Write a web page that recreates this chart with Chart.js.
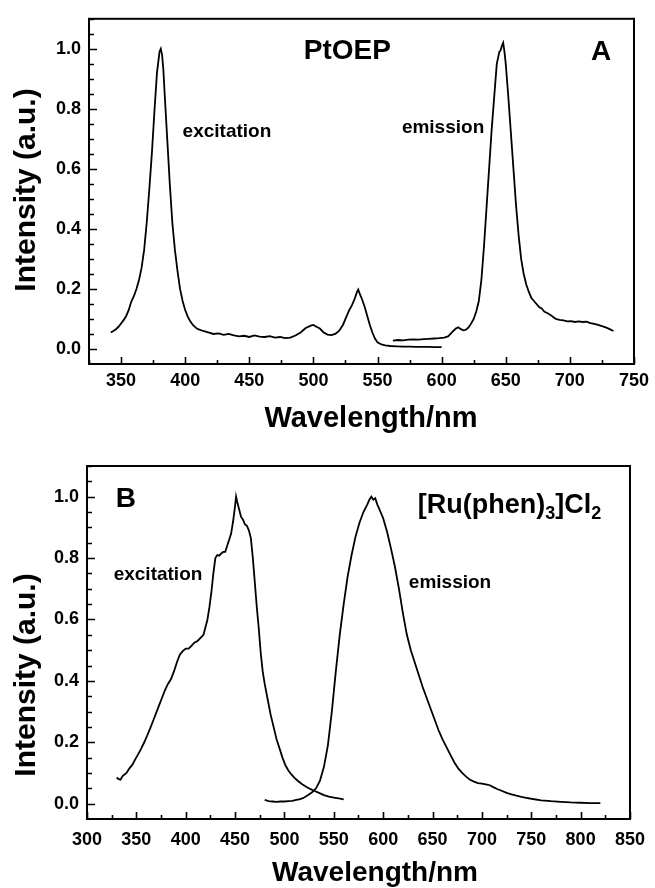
<!DOCTYPE html>
<html>
<head>
<meta charset="utf-8">
<title>PtOEP and [Ru(phen)3]Cl2 spectra</title>
<script src="https://cdn.jsdelivr.net/npm/chart.js@4"></script>
<style>
    html, body { margin: 0; padding: 0; background: #fff; }
    canvas { display: block; }
</style>
</head>
<body>
<canvas id="chartA" width="655" height="444"></canvas>
<canvas id="chartB" width="655" height="444"></canvas>
<script>
/* Panel A: PtOEP excitation spectrum */
const ptExcitationX = [342, 344, 346, 348, 350, 352, 354, 356, 358, 360, 362, 364, 366, 368, 370, 372, 374, 376, 378, 380,
    381, 382, 383, 384, 386, 388, 390, 392, 394, 396, 398, 400, 402, 404, 406, 408, 410, 414, 418, 422,
    426, 430, 434, 438, 442, 446, 450, 454, 458, 462, 466, 470, 474, 478, 482, 486, 490, 494, 498, 500,
    502, 505, 508, 511, 514, 517, 520, 523, 526, 528, 530, 532, 534, 535, 536, 538, 540, 542, 544, 546,
    548, 550, 553, 556, 560, 565, 570, 575, 580, 585, 590, 595, 600];
const ptExcitationY = [0.055, 0.06, 0.066, 0.074, 0.085, 0.096, 0.11, 0.13, 0.158, 0.176, 0.2, 0.23, 0.27, 0.33, 0.42, 0.53, 0.65, 0.79, 0.92, 0.99,
    1.0, 0.98, 0.93, 0.85, 0.7, 0.55, 0.42, 0.33, 0.26, 0.2, 0.16, 0.13, 0.108, 0.092, 0.08, 0.072, 0.066, 0.06, 0.055, 0.05,
    0.052, 0.047, 0.05, 0.045, 0.042, 0.044, 0.04, 0.045, 0.041, 0.04, 0.043, 0.038, 0.04, 0.036, 0.038, 0.045, 0.055, 0.07, 0.078, 0.08,
    0.075, 0.068, 0.055, 0.048, 0.046, 0.05, 0.06, 0.08, 0.11, 0.13, 0.145, 0.165, 0.19, 0.198, 0.185, 0.165, 0.14, 0.11, 0.08, 0.055,
    0.035, 0.022, 0.015, 0.012, 0.01, 0.009, 0.008, 0.008, 0.007, 0.007, 0.007, 0.006, 0.006];

/* Panel A: PtOEP emission spectrum */
const ptEmissionX = [562, 566, 570, 574, 578, 582, 586, 590, 594, 598, 602, 605, 608, 611, 613, 615, 617, 619, 621, 623,
    625, 627, 629, 631, 633, 635, 637, 639, 641, 643, 645, 646, 647, 648, 649, 650, 652, 654, 656, 658,
    660, 662, 664, 666, 668, 670, 672, 674, 676, 678, 680, 683, 686, 689, 692, 695, 698, 701, 704, 707,
    710, 713, 716, 719, 722, 725, 728, 731, 734];
const ptEmissionY = [0.028, 0.03, 0.029, 0.031, 0.032, 0.031, 0.033, 0.034, 0.035, 0.036, 0.038, 0.042, 0.055, 0.068, 0.072, 0.066, 0.062, 0.064, 0.072, 0.085,
    0.1, 0.125, 0.16, 0.23, 0.34, 0.47, 0.6, 0.73, 0.84, 0.95, 0.99, 0.995, 1.01, 1.02, 0.99, 0.95, 0.84, 0.72, 0.6, 0.48,
    0.38, 0.3, 0.25, 0.215, 0.19, 0.17, 0.16, 0.15, 0.14, 0.135, 0.125, 0.118, 0.11, 0.1, 0.097, 0.095, 0.092, 0.093, 0.09, 0.092,
    0.09, 0.091, 0.086, 0.084, 0.08, 0.076, 0.072, 0.066, 0.06];

/* Panel B: [Ru(phen)3]Cl2 excitation spectrum */
const ruExcitationX = [330, 332, 334, 336, 338, 340, 343, 346, 349, 352, 355, 358, 361, 364, 367, 370, 373, 376, 379, 382,
    385, 388, 391, 394, 397, 400, 403, 406, 409, 412, 415, 418, 420, 422, 424, 426, 428, 430, 432, 434,
    436, 438, 440, 442, 444, 446, 448, 450, 451, 452, 454, 456, 458, 460, 462, 464, 466, 468, 470, 472,
    474, 476, 478, 480, 483, 486, 489, 492, 495, 498, 501, 504, 507, 510, 514, 518, 522, 526, 530, 535,
    540, 545, 550, 555, 560];
const ruExcitationY = [0.085, 0.08, 0.078, 0.09, 0.095, 0.1, 0.115, 0.127, 0.145, 0.162, 0.18, 0.2, 0.222, 0.245, 0.27, 0.295, 0.32, 0.345, 0.37, 0.39,
    0.405, 0.43, 0.46, 0.485, 0.497, 0.505, 0.505, 0.515, 0.525, 0.53, 0.54, 0.55, 0.575, 0.6, 0.64, 0.69, 0.75, 0.8, 0.81, 0.808,
    0.815, 0.82, 0.82, 0.84, 0.86, 0.88, 0.92, 0.97, 1.0, 0.985, 0.96, 0.935, 0.925, 0.91, 0.905, 0.89, 0.865, 0.8, 0.72, 0.64,
    0.57, 0.49, 0.43, 0.39, 0.34, 0.29, 0.25, 0.21, 0.18, 0.15, 0.125, 0.108, 0.095, 0.085, 0.073, 0.063, 0.055, 0.048, 0.042, 0.035,
    0.028, 0.023, 0.02, 0.017, 0.014];

/* Panel B: [Ru(phen)3]Cl2 emission spectrum */
const ruEmissionX = [480, 484, 488, 492, 496, 500, 504, 508, 512, 516, 520, 524, 528, 532, 536, 540, 544, 548, 552, 556,
    560, 564, 568, 572, 576, 580, 584, 586, 588, 590, 592, 594, 596, 600, 604, 608, 612, 616, 620, 624,
    628, 632, 636, 640, 644, 648, 652, 656, 660, 664, 668, 672, 676, 680, 684, 688, 692, 696, 700, 704,
    708, 712, 716, 720, 725, 730, 735, 740, 745, 750, 760, 770, 780, 790, 800, 810, 820];
const ruEmissionY = [0.012, 0.008, 0.007, 0.006, 0.007, 0.007, 0.008, 0.009, 0.012, 0.015, 0.02, 0.028, 0.037, 0.05, 0.075, 0.12, 0.19, 0.3, 0.43, 0.55,
    0.65, 0.74, 0.81, 0.87, 0.915, 0.95, 0.975, 0.99, 1.0, 0.99, 0.995, 0.975, 0.96, 0.93, 0.885, 0.83, 0.77, 0.7, 0.62, 0.55,
    0.5, 0.46, 0.42, 0.38, 0.345, 0.31, 0.275, 0.24, 0.21, 0.185, 0.16, 0.135, 0.115, 0.1, 0.088, 0.078, 0.072, 0.067, 0.065, 0.063,
    0.06, 0.053, 0.047, 0.042, 0.035, 0.03, 0.026, 0.022, 0.019, 0.016, 0.011, 0.008, 0.006, 0.004, 0.003, 0.002, 0.002];

/* Tick positions and labelled ticks */
const topXTicks = [325, 350, 375, 400, 425, 450, 475, 500, 525, 550, 575, 600, 625, 650, 675, 700, 725, 750];
const topXLabels = [350, 400, 450, 500, 550, 600, 650, 700, 750];
const bottomXTicks = [300, 325, 350, 375, 400, 425, 450, 475, 500, 525, 550, 575, 600, 625, 650, 675, 700, 725, 750, 775, 800, 825, 850];
const bottomXLabels = [300, 350, 400, 450, 500, 550, 600, 650, 700, 750, 800, 850];
const yTicks = [0, 0.05, 0.1, 0.15, 0.2, 0.25, 0.3, 0.35, 0.4, 0.45, 0.5, 0.55, 0.6, 0.65, 0.7, 0.75, 0.8, 0.85, 0.9, 0.95, 1.0, 1.05, 1.1];
const yLabels = [0, 0.2, 0.4, 0.6, 0.8, 1.0];

const FONT = '"Liberation Sans", Arial, Helvetica, sans-serif';

/* Pair x and y arrays into point objects */
function toPoints(xs, ys) {
    return xs.map((x, i) => ({ x: x, y: ys[i] }));
}

function isLabel(list, v) {
    return list.some(l => Math.abs(l - v) < 1e-6);
}

/* Frame, inward tick marks, axis titles and text labels */
const framePlugin = {
    id: 'frame',
    afterDraw(chart, args, opts) {
        const ctx = chart.ctx;
        const area = chart.chartArea;
        const xs = chart.scales.x;
        const ys = chart.scales.y;
        ctx.save();
        ctx.strokeStyle = '#000';
        ctx.lineWidth = 2;
        ctx.strokeRect(area.left, area.top, area.right - area.left, area.bottom - area.top);

        // inward tick marks
        ctx.lineWidth = 1.6;
        ctx.beginPath();
        xs.ticks.forEach(t => {
            const px = Math.round(xs.getPixelForValue(t.value)) + 0.5;
            const len = isLabel(opts.xLabels, t.value) ? 7 : 4;
            ctx.moveTo(px, area.bottom);
            ctx.lineTo(px, area.bottom - len);
        });
        ys.ticks.forEach(t => {
            const py = Math.round(ys.getPixelForValue(t.value)) + 0.5;
            const len = isLabel(yLabels, t.value) ? 8 : 5;
            ctx.moveTo(area.left, py);
            ctx.lineTo(area.left + len, py);
        });
        ctx.stroke();

        ctx.fillStyle = '#000';
        // x axis title
        ctx.font = 'bold ' + opts.xTitle.size + 'px ' + FONT;
        ctx.textAlign = 'center';
        ctx.textBaseline = 'alphabetic';
        ctx.fillText(opts.xTitle.text, opts.xTitle.x, opts.xTitle.y);

        // y axis title
        ctx.save();
        ctx.translate(opts.yTitle.x, opts.yTitle.y);
        ctx.rotate(-Math.PI / 2);
        ctx.font = 'bold ' + opts.yTitle.size + 'px ' + FONT;
        ctx.fillText(opts.yTitle.text, 0, 0);
        ctx.restore();

        // text labels placed in data coordinates
        ctx.textAlign = 'left';
        opts.labels.forEach(lab => {
            let px = xs.getPixelForValue(lab.x);
            const py = ys.getPixelForValue(lab.y);
            ctx.textBaseline = lab.baseline || 'alphabetic';
            lab.parts.forEach(p => {
                const size = p.sub ? lab.subSize : lab.size;
                ctx.font = 'bold ' + size + 'px ' + FONT;
                ctx.fillText(p.t, px, py + (p.sub ? lab.subShift : 0));
                px += ctx.measureText(p.t).width;
            });
        });
        ctx.restore();
    }
};

/* Build one spectrum panel */
function makeChart(id, cfg) {
    const ctx = document.getElementById(id).getContext('2d');
    const datasets = cfg.series.map(s => ({
        data: s,
        borderColor: '#000',
        borderWidth: 1.8,
        pointRadius: 0,
        tension: 0,
        fill: false
    }));
    return new Chart(ctx, {
        type: 'line',
        data: { datasets },
        plugins: [framePlugin],
        options: {
            responsive: false,
            animation: false,
            devicePixelRatio: 1,
            layout: { padding: cfg.padding },
            plugins: {
                legend: { display: false },
                tooltip: { enabled: false },
                frame: cfg.frame
            },
            scales: {
                x: {
                    type: 'linear',
                    min: cfg.xMin,
                    max: cfg.xMax,
                    grid: { display: false, drawTicks: false },
                    border: { display: false },
                    afterBuildTicks: s => { s.ticks = cfg.xTicks.map(v => ({ value: v })); },
                    afterFit: s => { s.height = cfg.xAxisHeight; },
                    ticks: {
                        autoSkip: false,
                        maxRotation: 0,
                        padding: cfg.xPad,
                        color: '#000',
                        font: { family: FONT, size: 18, weight: 'bold' },
                        callback: v => isLabel(cfg.xLabels, v) ? String(v) : ''
                    }
                },
                y: {
                    type: 'linear',
                    min: -0.05,
                    max: 1.1,
                    grid: { display: false, drawTicks: false },
                    border: { display: false },
                    afterBuildTicks: s => { s.ticks = yTicks.map(v => ({ value: v })); },
                    afterFit: s => { s.width = cfg.yAxisWidth; },
                    ticks: {
                        autoSkip: false,
                        padding: 8,
                        color: '#000',
                        font: { family: FONT, size: 18, weight: 'bold' },
                        callback: v => isLabel(yLabels, v) ? v.toFixed(1) : ''
                    }
                }
            }
        }
    });
}

function init() {
    makeChart('chartA', {
        series: [toPoints(ptExcitationX, ptExcitationY), toPoints(ptEmissionX, ptEmissionY)],
        xMin: 325, xMax: 750,
        xTicks: topXTicks, xLabels: topXLabels,
        padding: { top: 11, right: 19, left: 0, bottom: 0 },
        xAxisHeight: 80, yAxisWidth: 89, xPad: 6,
        frame: {
            xLabels: topXLabels,
            xTitle: { text: 'Wavelength/nm', size: 29, x: 371, y: 427 },
            yTitle: { text: 'Intensity (a.u.)', size: 30, x: 35, y: 190 },
            labels: [
                { x: 492.5, y: 0.965, size: 28, parts: [{ t: 'PtOEP' }] },
                { x: 716.5, y: 0.962, size: 28, parts: [{ t: 'A' }] },
                { x: 398, y: 0.723, size: 19, baseline: 'middle', parts: [{ t: 'excitation' }] },
                { x: 569, y: 0.736, size: 19, baseline: 'middle', parts: [{ t: 'emission' }] }
            ]
        }
    });
    makeChart('chartB', {
        series: [toPoints(ruExcitationX, ruExcitationY), toPoints(ruEmissionX, ruEmissionY)],
        xMin: 300, xMax: 850,
        xTicks: bottomXTicks, xLabels: bottomXLabels,
        padding: { top: 22, right: 19, left: 0, bottom: 0 },
        xAxisHeight: 69, yAxisWidth: 87, xPad: 10,
        frame: {
            xLabels: bottomXLabels,
            xTitle: { text: 'Wavelength/nm', size: 28, x: 375, y: 437 },
            yTitle: { text: 'Intensity (a.u.)', size: 30, x: 35, y: 231 },
            labels: [
                { x: 329, y: 0.965, size: 28, parts: [{ t: 'B' }] },
                { x: 635, y: 0.948, size: 27, subSize: 18, subShift: 6,
                  parts: [{ t: '[Ru(phen)' }, { t: '3', sub: true }, { t: ']Cl' }, { t: '2', sub: true }] },
                { x: 327, y: 0.746, size: 19, baseline: 'middle', parts: [{ t: 'excitation' }] },
                { x: 626, y: 0.72, size: 19, baseline: 'middle', parts: [{ t: 'emission' }] }
            ]
        }
    });
}

window.addEventListener('load', init);
</script>
</body>
</html>
